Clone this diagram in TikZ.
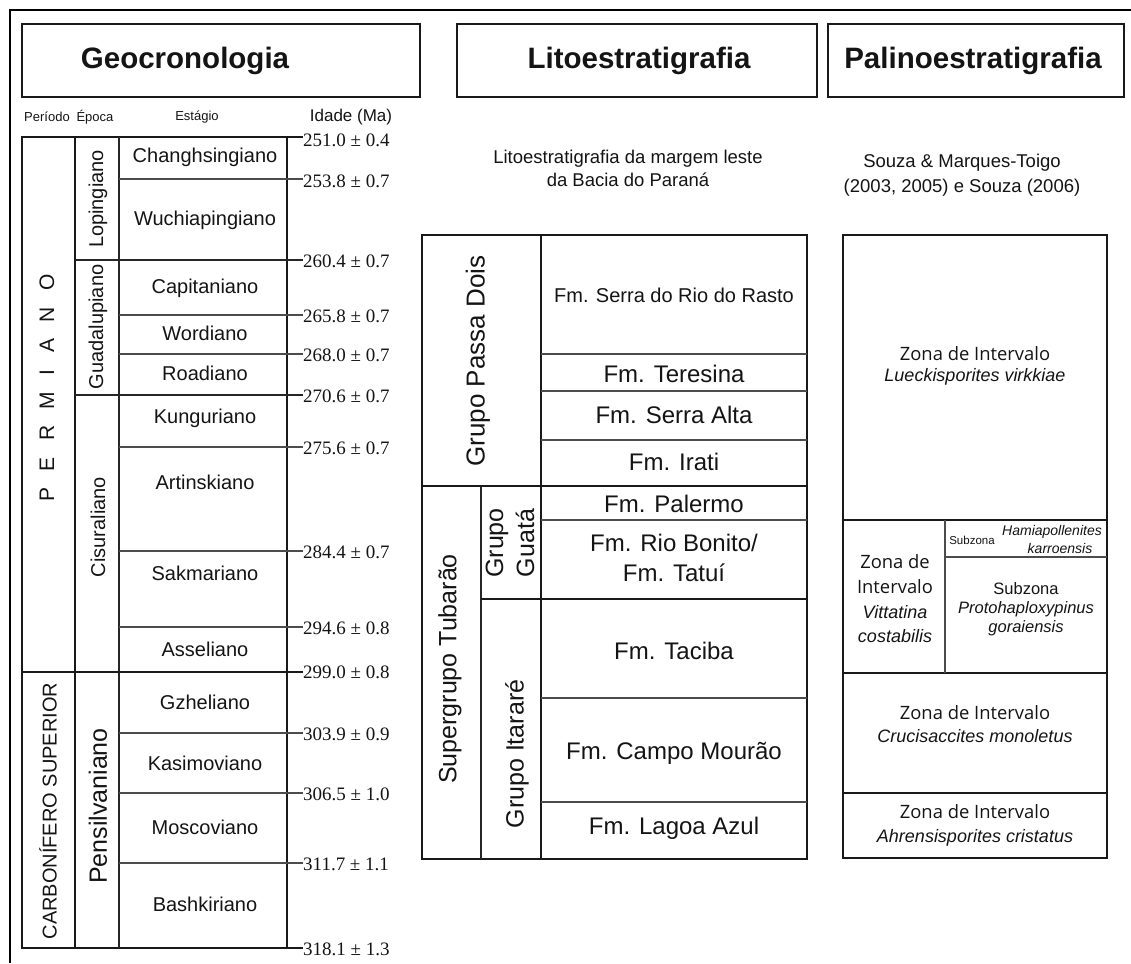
\documentclass[tikz,border=0pt]{standalone}
\usepackage{fontspec}
\setmainfont{Liberation Sans}
\newfontfamily\agefont{Liberation Serif}
\newfontfamily\zonefont{Open Sans}
\newcommand{\fsz}[2]{\fontsize{#1pt}{#2pt}\selectfont}
\begin{document}
\begin{tikzpicture}[x=1pt,y=-1pt,
  heavy/.style={line width=2pt,draw=black!90},
  midline/.style={line width=1.5pt,draw=black!85},
  light/.style={line width=1.1pt,draw=black!70},
  lbl/.style={inner sep=0pt,align=center,text=black!92},
  ttl/.style={lbl,font=\fsz{29.5}{34}\bfseries},
  sub/.style={lbl,font=\fsz{13}{15}},
  stg/.style={lbl,font=\fsz{20}{24}},
  age/.style={inner sep=0pt,anchor=west,font=\agefont\fsz{19}{22},text=black!92},
  vert/.style={lbl,rotate=90},
  fm/.style={lbl,font=\fsz{24}{30}},
  zon/.style={lbl,font=\zonefont\fsz{18.4}{22}},
  spc/.style={lbl,font=\fsz{18}{22}\itshape},
]
\useasboundingbox (0,0) rectangle (1131,963);
% outer frame
\draw[line width=2.5pt] (10,963) -- (10,10) -- (1131,10);

% headers
\draw[heavy] (22,24) rectangle (420,97);
\node[ttl] (tgeo) at (185,61) {Geocronologia};
\draw[heavy] (457,24) rectangle (817,97);
\node[ttl] (tlito) at (639,61) {Litoestratigrafia};
\draw[heavy] (828,24) rectangle (1124,97);
\node[ttl] (tpal) at (973,61) {Palinoestratigrafia};

% column headings
\node[sub] (hper) at (47,117) {Período};
\node[sub] (hepo) at (95,117) {Época};
\node[sub] (hstg) at (197,117) {Estágio};
\node[lbl,font=\fsz{17}{20}] (hage) at (351,117) {Idade (Ma)};

% ---------- Geochronology table ----------
\draw[heavy] (22,137) rectangle (287,948);
\draw[heavy] (75,137) -- (75,948);
\draw[midline] (119,137) -- (119,948);
\draw[heavy] (287,137) -- (303,137);
\draw[heavy] (287,948) -- (303,948);
\draw[heavy] (22,672) -- (303,672);
\draw[midline] (75,260) -- (303,260);
\draw[midline] (75,395) -- (303,395);
\foreach \yy in {179,315,354,447,551,627,733,793,863}
  \draw[light] (119,\yy) -- (303,\yy);

% ages
\node[age] (a1) at (303,140) {251.0 ± 0.4};
\node[age] (a2) at (303,181) {253.8 ± 0.7};
\node[age] (a3) at (303,261) {260.4 ± 0.7};
\node[age] (a4) at (303,316) {265.8 ± 0.7};
\node[age] (a5) at (303,355) {268.0 ± 0.7};
\node[age] (a6) at (303,396) {270.6 ± 0.7};
\node[age] (a7) at (303,448) {275.6 ± 0.7};
\node[age] (a8) at (303,552) {284.4 ± 0.7};
\node[age] (a9) at (303,628) {294.6 ± 0.8};
\node[age] (a10) at (303,672) {299.0 ± 0.8};
\node[age] (a11) at (303,734) {303.9 ± 0.9};
\node[age] (a12) at (303,794) {306.5 ± 1.0};
\node[age] (a13) at (303,864) {311.7 ± 1.1};
\node[age] (a14) at (303,949) {318.1 ± 1.3};

% periods
\node[vert,font=\fsz{21}{24}] (perm) at (47,388)
  {P\hspace{16.5pt}E\hspace{16.5pt}R\hspace{16.5pt}M\hspace{16.5pt}I\hspace{16.5pt}A\hspace{16.5pt}N\hspace{16.5pt}O};
\node[vert,font=\fsz{20}{24}] (carb) at (48,811) {CARBONÍFERO SUPERIOR};

% epochs
\node[vert,font=\fsz{20}{24}] (lop) at (98,199) {Lopingiano};
\node[vert,font=\fsz{20}{24}] (gua) at (98,327) {Guadalupiano};
\node[vert,font=\fsz{20}{24}] (cis) at (98,527) {Cisuraliano};
\node[vert,font=\fsz{25}{28}] (pen) at (98,806) {Pensilvaniano};

% stages
\node[stg] (s1) at (205,157) {Changhsingiano};
\node[stg] (s2) at (205,220) {Wuchiapingiano};
\node[stg] (s3) at (205,288) {Capitaniano};
\node[stg] (s4) at (205,333) {Wordiano};
\node[stg] (s5) at (205,373) {Roadiano};
\node[stg] (s6) at (205,418) {Kunguriano};
\node[stg] (s7) at (205,482) {Artinskiano};
\node[stg] (s8) at (205,573) {Sakmariano};
\node[stg] (s9) at (205,649) {Asseliano};
\node[stg] (s10) at (205,702) {Gzheliano};
\node[stg] (s11) at (205,763) {Kasimoviano};
\node[stg] (s12) at (205,827) {Moscoviano};
\node[stg] (s13) at (205,904) {Bashkiriano};

% ---------- Lithostratigraphy ----------
\node[lbl,font=\fsz{18.5}{23}] (lsub) at (628,168)
  {Litoestratigrafia da margem leste\\da Bacia do Paraná};
\draw[heavy] (422,235) rectangle (807,859);
\draw[heavy] (541,235) -- (541,859);
\draw[midline] (481,486) -- (481,859);
\draw[heavy] (422,486) -- (807,486);
\draw[heavy] (481,599) -- (807,599);
\foreach \yy in {354,391,440,520,698,802}
  \draw[light] (541,\yy) -- (807,\yy);

\node[vert,font=\fsz{26}{28}] (gpd) at (478,361) {Grupo Passa Dois};
\node[vert,font=\fsz{25}{28}] (sgt) at (450,669) {Supergrupo Tubarão};
\node[vert,font=\fsz{25}{31}] (ggu) at (510,543) {Grupo\\Guatá};
\node[vert,font=\fsz{25}{28}] (git) at (517,754) {Grupo Itararé};

\node[lbl,font=\fsz{20}{24}] (f1) at (674,295) {Fm. Serra do Rio do Rasto};
\node[fm] (f2) at (674,374) {Fm. Teresina};
\node[fm] (f3) at (674,415) {Fm. Serra Alta};
\node[fm] (f4) at (674,462) {Fm. Irati};
\node[fm] (f5) at (674,504) {Fm. Palermo};
\node[fm] (f6) at (674,558) {Fm. Rio Bonito/\\Fm. Tatuí};
\node[fm] (f7) at (674,651) {Fm. Taciba};
\node[fm] (f8) at (674,753) {Fm. Campo Mourão};
\node[fm] (f9) at (674,828) {Fm. Lagoa Azul};

% ---------- Palynostratigraphy ----------
\node[lbl,font=\fsz{18.5}{25}] (psub) at (962,175)
  {Souza \& Marques-Toigo\\(2003, 2005) e Souza (2006)};
\draw[heavy,line width=2.4pt] (843,235) rectangle (1107,858);
\draw[heavy,line width=2.4pt] (843,520) -- (1107,520);
\draw[heavy,line width=2.4pt] (843,673) -- (1107,673);
\draw[heavy,line width=2.4pt] (843,793) -- (1107,793);
\draw[light] (945,520) -- (945,673);
\draw[light] (945,557) -- (1107,557);

\node[zon] (z1a) at (975,354) {Zona de Intervalo};
\node[spc] (z1b) at (975,377) {Lueckisporites virkkiae};

\node[zon] (z2a) at (895,562) {Zona de};
\node[zon] (z2b) at (895,587) {Intervalo};
\node[spc] (z2c) at (895,612) {Vittatina};
\node[spc] (z2d) at (895,636) {costabilis};

\node[lbl,font=\fsz{11.5}{13}] (hs1) at (972,540) {Subzona};
\node[lbl,font=\fsz{14}{16}\itshape] (hs2) at (1052,532) {Hamiapollenites};
\node[lbl,font=\fsz{14}{16}\itshape] (hs3) at (1060,548) {karroensis};

\node[lbl,font=\fsz{16.5}{19}] (ps1) at (1026,589) {Subzona};
\node[lbl,font=\fsz{16.5}{19}\itshape] (ps2) at (1026,609) {Protohaploxypinus};
\node[lbl,font=\fsz{16.5}{19}\itshape] (ps3) at (1026,628) {goraiensis};

\node[zon] (z3a) at (975,713) {Zona de Intervalo};
\node[spc] (z3b) at (975,736) {Crucisaccites monoletus};

\node[zon] (z4a) at (975,812) {Zona de Intervalo};
\node[spc] (z4b) at (975,838) {Ahrensisporites cristatus};
\end{tikzpicture}
\end{document}
